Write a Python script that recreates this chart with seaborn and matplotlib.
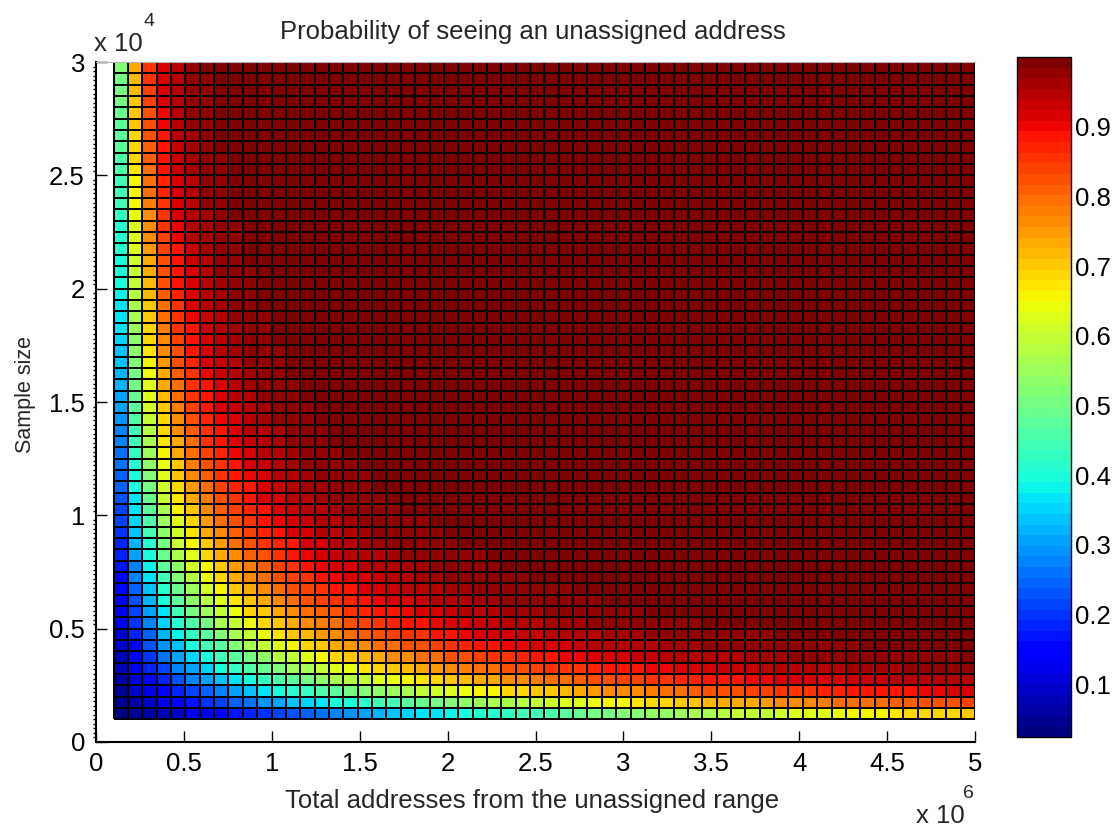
import numpy as np
import matplotlib
matplotlib.use("Agg")
import matplotlib.pyplot as plt
from matplotlib.ticker import MultipleLocator
import seaborn as sns

# Grid edges of the surface: 61 address values along x, 59 sample sizes along y
addresses = np.linspace(1e5, 5e6, 61)
sample_sizes = np.arange(1000, 30001, 500)

# Probability in percent, read cell by cell from the colours.
# First row = bottom row (1000 samples), values left to right.
# Each row stops where the colour reaches the top of the scale;
# the cells after that are saturated (dark red).
prob_pct = [
    [2.4, 4, 6, 8, 10, 12, 13, 15, 17, 18, 20, 22, 23, 25, 26, 28, 29, 31, 32, 33,
     35, 36, 37, 38, 40, 41, 42, 43, 44, 45, 46, 48, 49, 50, 51, 52, 52, 53, 54, 55,
     56, 57, 58, 59, 60, 60, 61, 62, 63, 63, 64, 65, 65, 66, 67, 68, 68, 69, 69, 70],
    [4, 6, 9, 12, 15, 17, 20, 22, 24, 26, 29, 31, 33, 35, 37, 39, 40, 42, 44, 45,
     47, 49, 50, 52, 53, 55, 56, 57, 58, 60, 61, 62, 63, 64, 65, 66, 67, 68, 69, 70,
     71, 72, 73, 73, 74, 75, 76, 76, 77, 78, 79, 79, 80, 80, 81, 81, 82, 83, 83, 84],
    [5, 9, 12, 16, 19, 22, 25, 28, 31, 34, 36, 39, 41, 43, 46, 48, 50, 52, 54, 55,
     57, 59, 61, 62, 64, 65, 66, 68, 69, 70, 71, 72, 74, 75, 76, 77, 77, 78, 79, 80,
     81, 82, 82, 83, 84, 84, 85, 85, 86, 87, 87, 88, 88, 89, 89, 89, 90, 90, 91, 91],
    [6, 11, 15, 19, 23, 27, 30, 34, 37, 40, 43, 46, 48, 51, 53, 56, 58, 60, 62, 64,
     65, 67, 69, 70, 72, 73, 74, 76, 77, 78, 79, 80, 81, 82, 83, 84, 84, 85, 86, 87,
     87, 88, 88, 89, 90, 90, 91, 91, 91, 92, 92, 93, 93, 93, 94, 94, 94, 95, 95, 95],
    [7, 13, 18, 22, 27, 31, 35, 39, 43, 46, 49, 52, 55, 57, 60, 62, 64, 67, 68, 70,
     72, 74, 75, 77, 78, 79, 80, 82, 83, 84, 85, 86, 86, 87, 88, 89, 89, 90, 90, 91,
     92, 92, 93, 93, 93, 94, 94, 94, 95, 95, 95, 96, 96, 96, 96, 97, 97, 97, 97, 97],
    [8, 14, 20, 26, 31, 35, 40, 44, 48, 51, 54, 58, 60, 63, 66, 68, 70, 72, 74, 76,
     77, 79, 80, 82, 83, 84, 85, 86, 87, 88, 89, 90, 90, 91, 92, 92, 93, 93, 94, 94,
     94, 95, 95, 95, 96, 96, 96, 97, 97, 97, 97, 97, 98, 98, 98, 98, 98, 98, 98, 99],
    [9, 16, 23, 29, 34, 39, 44, 48, 52, 56, 59, 62, 65, 68, 70, 73, 75, 77, 79, 80,
     82, 83, 84, 86, 87, 88, 89, 90, 90, 91, 92, 92, 93, 94, 94, 94, 95, 95, 96, 96,
     96, 97, 97, 97, 97, 98, 98, 98, 98, 98, 98, 98, 99, 99, 99, 99, 99],
    [10, 18, 25, 32, 38, 43, 48, 52, 56, 60, 64, 67, 70, 72, 75, 77, 79, 81, 82, 84,
     85, 86, 88, 89, 90, 91, 91, 92, 93, 93, 94, 94, 95, 95, 96, 96, 96, 97, 97, 97,
     98, 98, 98, 98, 98, 98, 99, 99, 99, 99, 99],
    [12, 20, 28, 35, 41, 46, 51, 56, 60, 64, 68, 71, 73, 76, 78, 80, 82, 84, 85, 87,
     88, 89, 90, 91, 92, 93, 93, 94, 95, 95, 96, 96, 96, 97, 97, 97, 98, 98, 98, 98,
     98, 99, 99, 99, 99, 99],
    [13, 22, 30, 37, 44, 50, 55, 60, 64, 68, 71, 74, 77, 79, 81, 83, 85, 87, 88, 89,
     90, 91, 92, 93, 94, 94, 95, 96, 96, 96, 97, 97, 97, 98, 98, 98, 98, 99, 99, 99,
     99, 99],
    [14, 23, 32, 40, 47, 53, 58, 63, 67, 71, 74, 77, 80, 82, 84, 86, 87, 89, 90, 91,
     92, 93, 94, 95, 95, 96, 96, 97, 97, 97, 98, 98, 98, 98, 99, 99, 99, 99],
    [15, 25, 34, 42, 49, 55, 61, 66, 70, 74, 77, 80, 82, 84, 86, 88, 89, 91, 92, 93,
     94, 94, 95, 96, 96, 97, 97, 97, 98, 98, 98, 98, 99, 99, 99],
    [16, 27, 36, 45, 52, 58, 64, 68, 73, 76, 79, 82, 84, 86, 88, 90, 91, 92, 93, 94,
     95, 96, 96, 97, 97, 97, 98, 98, 98, 99, 99, 99, 99],
    [17, 28, 38, 47, 54, 61, 66, 71, 75, 78, 81, 84, 86, 88, 90, 91, 92, 94, 94, 95,
     96, 96, 97, 97, 98, 98, 98, 99, 99, 99, 99],
    [18, 30, 40, 49, 57, 63, 69, 73, 77, 81, 83, 86, 88, 90, 91, 93, 94, 95, 95, 96,
     97, 97, 98, 98, 98, 98, 99, 99, 99],
    [19, 32, 42, 51, 59, 65, 71, 75, 79, 82, 85, 87, 89, 91, 92, 94, 95, 96, 96, 97,
     97, 98, 98, 98, 99, 99, 99],
    [20, 33, 44, 53, 61, 67, 73, 77, 81, 84, 87, 89, 91, 92, 94, 95, 95, 96, 97, 97,
     98, 98, 98, 99, 99, 99],
    [21, 35, 46, 55, 63, 69, 75, 79, 83, 86, 88, 90, 92, 93, 94, 95, 96, 97, 97, 98,
     98, 98, 99, 99],
    [22, 36, 48, 57, 65, 71, 76, 81, 84, 87, 89, 91, 93, 94, 95, 96, 97, 97, 98, 98,
     99, 99, 99],
    [23, 37, 49, 59, 67, 73, 78, 82, 86, 88, 91, 92, 94, 95, 96, 97, 97, 98, 98, 99,
     99, 99],
    [24, 39, 51, 61, 68, 75, 80, 84, 87, 89, 92, 93, 95, 96, 96, 97, 98, 98, 99, 99, 99],
    [25, 40, 52, 62, 70, 76, 81, 85, 88, 90, 92, 94, 95, 96, 97, 98, 98, 98, 99, 99],
    [26, 41, 54, 64, 71, 78, 82, 86, 89, 91, 93, 95, 96, 97, 97, 98, 98, 99, 99],
    [26, 43, 55, 65, 73, 79, 84, 87, 90, 92, 94, 95, 96, 97, 98, 98, 99, 99, 99],
    [27, 44, 57, 67, 74, 80, 85, 88, 91, 93, 95, 96, 97, 98, 98, 99, 99, 99],
    [28, 45, 58, 68, 76, 81, 86, 89, 92, 94, 95, 96, 97, 98, 98, 99, 99],
    [29, 46, 60, 69, 77, 83, 87, 90, 92, 94, 96, 97, 98, 98, 99, 99, 99],
    [30, 48, 61, 71, 78, 84, 88, 91, 93, 95, 96, 97, 98, 98, 99, 99],
    [31, 49, 62, 72, 79, 85, 89, 92, 94, 95, 97, 97, 98, 99, 99],
    [32, 50, 63, 73, 80, 85, 89, 92, 94, 96, 97, 98, 98, 99, 99],
    [32, 51, 64, 74, 81, 86, 90, 93, 95, 96, 97, 98, 99, 99, 99],
    [33, 52, 66, 75, 82, 87, 91, 93, 95, 97, 98, 98, 99, 99],
    [34, 53, 67, 76, 83, 88, 91, 94, 96, 97, 98, 98, 99, 99],
    [35, 54, 68, 77, 84, 89, 92, 94, 96, 97, 98, 99, 99],
    [36, 55, 69, 78, 85, 89, 93, 95, 96, 97, 98, 99, 99],
    [36, 56, 70, 79, 86, 90, 93, 95, 97, 98, 98, 99, 99],
    [37, 57, 71, 80, 86, 91, 94, 96, 97, 98, 99, 99],
    [38, 58, 72, 81, 87, 91, 94, 96, 97, 98, 99, 99],
    [39, 59, 72, 82, 88, 92, 94, 96, 98, 98, 99, 99],
    [40, 60, 73, 82, 88, 92, 95, 97, 98, 98, 99],
    [40, 61, 74, 83, 89, 93, 95, 97, 98, 99, 99],
    [41, 62, 75, 84, 89, 93, 96, 97, 98, 99, 99],
    [42, 62, 76, 84, 90, 94, 96, 97, 98, 99],
    [42, 63, 77, 85, 90, 94, 96, 98, 98, 99],
    [43, 64, 77, 86, 91, 94, 96, 98, 99, 99],
    [44, 65, 78, 86, 91, 95, 97, 98, 99, 99],
    [44, 66, 79, 87, 92, 95, 97, 98, 99, 99],
    [45, 66, 79, 87, 92, 95, 97, 98, 99],
    [46, 67, 80, 88, 93, 96, 97, 98, 99],
    [46, 68, 81, 88, 93, 96, 97, 98, 99],
    [47, 69, 81, 89, 93, 96, 98, 99, 99],
    [48, 69, 82, 89, 94, 96, 98, 99, 99],
    [48, 70, 82, 90, 94, 97, 98, 99, 99],
    [49, 71, 83, 90, 94, 97, 98, 99],
    [50, 71, 84, 91, 95, 97, 98, 99],
    [50, 72, 84, 91, 95, 97, 98, 99],
    [51, 72, 85, 91, 95, 97, 98, 99],
    [52, 73, 85, 92, 95, 97, 99, 99],
]
SATURATED = 100

x_ticks = [0, 0.5e6, 1e6, 1.5e6, 2e6, 2.5e6, 3e6, 3.5e6, 4e6, 4.5e6, 5e6]
y_ticks = [0, 5000, 10000, 15000, 20000, 25000, 30000]
cbar_ticks = [0.1, 0.2, 0.3, 0.4, 0.5, 0.6, 0.7, 0.8, 0.9]


def main():
    ncols = len(addresses) - 1
    grid = np.array([row + [SATURATED] * (ncols - len(row)) for row in prob_pct]) / 100.0

    # heatmap cells sit at integer positions; map real values onto them
    dx = addresses[1] - addresses[0]
    dy = sample_sizes[1] - sample_sizes[0]
    to_col = lambda v: (v - addresses[0]) / dx
    to_row = lambda v: (v - sample_sizes[0]) / dy

    sns.set_style("white")
    plt.rcParams['font.family'] = ['Liberation Sans', 'DejaVu Sans']
    fs = 18.5

    fig = plt.figure(figsize=(11.13, 8.26), dpi=100)
    ax = fig.add_axes([0.0863, 0.1017, 0.7898, 0.8232])
    cax = fig.add_axes([0.9137, 0.1077, 0.0485, 0.8232])

    cmap = matplotlib.colormaps['jet'].resampled(64)
    sns.heatmap(grid, ax=ax, cbar_ax=cax, cmap=cmap,
                vmin=grid.min(), vmax=grid.max(),
                linewidths=1.4, linecolor='black',
                xticklabels=False, yticklabels=False)

    ax.set_xlim(to_col(0), to_col(5e6))
    ax.set_ylim(to_row(0), to_row(30000))
    ax.set_xticks([to_col(v) for v in x_ticks])
    ax.set_xticklabels([f'{v / 1e6:g}' for v in x_ticks])
    ax.set_yticks([to_row(v) for v in y_ticks])
    ax.set_yticklabels([f'{v / 1e4:g}' for v in y_ticks], rotation=0)
    ax.yaxis.set_minor_locator(MultipleLocator(to_row(1200) - to_row(1000)))
    ax.tick_params(axis='both', which='major', direction='in', length=8, width=1,
                   colors='black', labelsize=fs, bottom=True, left=True)
    ax.tick_params(axis='y', which='minor', direction='out', length=2.5, width=1,
                   colors='black', left=True)
    ax.tick_params(axis='x', pad=7)
    ax.tick_params(axis='y', pad=8)
    for side in ['left', 'bottom']:
        ax.spines[side].set_visible(True)
        ax.spines[side].set_color('black')
        ax.spines[side].set_linewidth(1.5)
    ax.spines['top'].set_visible(True)
    ax.spines['top'].set_color('#b0b0b0')
    ax.spines['top'].set_linewidth(0.8)

    # colour bar
    cb = ax.collections[0].colorbar
    cb.set_ticks(cbar_ticks)
    cb.set_ticklabels([f'{t:.1f}' for t in cbar_ticks])
    cb.outline.set_visible(True)
    cb.outline.set_linewidth(1)
    cb.outline.set_edgecolor('black')
    cax.tick_params(axis='y', direction='in', length=6, width=1, left=True, right=True,
                    labelleft=False, labelright=True, labelsize=fs, pad=3, colors='black')

    # texts
    fig.text(0.479, 0.961, 'Probability of seeing an unassigned address',
             ha='center', va='center', fontsize=fs)
    fig.text(0.478, 0.030, 'Total addresses from the unassigned range',
             ha='center', va='center', fontsize=fs)
    fig.text(0.0225, 0.522, 'Sample size', ha='center', va='center',
             rotation=90, fontsize=15.5)
    fig.text(94 / 1113, 1 - 51 / 826, 'x 10', ha='left', va='baseline', fontsize=fs)
    fig.text(144 / 1113, 1 - 26 / 826, '4', ha='left', va='baseline', fontsize=14)
    fig.text(916 / 1113, 1 - 823 / 826, 'x 10', ha='left', va='baseline', fontsize=fs)
    fig.text(963 / 1113, 1 - 798 / 826, '6', ha='left', va='baseline', fontsize=14)

    fig.savefig('out.png', dpi=100)


if __name__ == "__main__":
    main()
